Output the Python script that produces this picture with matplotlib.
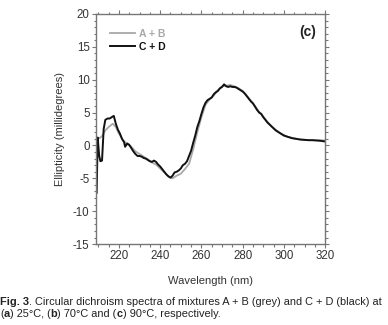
import matplotlib
matplotlib.use("Agg")
import matplotlib.pyplot as plt
from matplotlib.ticker import MultipleLocator

plt.rcParams['font.family'] = ['Liberation Sans', 'DejaVu Sans']
plt.rcParams['axes.unicode_minus'] = False

# C + D (black)
wl_cd = [209.2, 209.7, 210.4, 211, 211.8, 212.6, 213.4, 214.5, 215.5, 216.5, 217.5, 218.5,
         219.5, 220.5, 221.5, 222.5, 223, 224, 225, 226, 227, 228, 229, 230, 231, 232,
         233, 234, 235, 236, 237, 238, 239, 240, 241, 242, 243, 244, 245, 246, 247, 248,
         249, 250, 251, 252, 253, 254, 255, 256, 257, 258, 259, 260, 261, 262, 263, 264,
         265, 266, 267, 268, 269, 270, 271, 272, 273, 274, 275, 276, 277, 278, 279, 280,
         281, 282, 283, 284, 285, 286, 287, 288, 289, 290, 291, 292, 293, 294, 295, 296,
         297, 298, 299, 300, 302, 304, 306, 308, 310, 312, 314, 316, 318, 320]
cd = [-7.2, 1.2, -1.5, -2.4, -2.3, 2.5, 3.9, 4.1, 4.1, 4.3, 4.5, 3.3,
      2.4, 1.8, 1.0, 0.5, -0.2, 0.3, 0.1, -0.4, -0.9, -1.3, -1.6, -1.6, -1.7, -1.9,
      -2.0, -2.2, -2.4, -2.5, -2.3, -2.5, -2.9, -3.2, -3.6, -4.0, -4.4, -4.7, -4.9, -4.6, -4.1, -4.0,
      -3.8, -3.5, -3.0, -2.8, -2.4, -1.6, -0.8, 0.4, 1.5, 2.8, 3.7, 4.8, 5.8, 6.5, 6.9, 7.1,
      7.3, 7.8, 8.1, 8.3, 8.7, 8.9, 9.3, 9.0, 8.9, 9.0, 8.9, 8.9, 8.8, 8.6, 8.4, 8.2,
      7.9, 7.5, 7.1, 6.7, 6.4, 5.9, 5.4, 5.0, 4.8, 4.3, 3.9, 3.5, 3.2, 2.9, 2.6, 2.3,
      2.1, 1.9, 1.7, 1.5, 1.3, 1.1, 1.0, 0.9, 0.85, 0.8, 0.8, 0.75, 0.7, 0.6]

# A + B (grey)
wl_ab = [209.2, 209.7, 211, 212, 213.4, 215, 217, 218.5, 220, 222, 224, 226, 228, 230, 232,
         234, 236, 238, 240, 242, 244, 246, 248, 250, 252, 254, 256, 258, 260, 262, 264,
         266, 268, 270, 272, 274, 276, 278, 280, 282, 284, 286, 288, 290, 292, 294, 296,
         298, 300, 302, 305, 308, 311, 314, 317, 320]
ab = [-5.0, 1.0, 1.2, 1.5, 2.3, 2.8, 3.3, 2.8, 1.8, 0.8, 0.2, -0.2, -0.9, -1.3, -1.7,
      -2.1, -2.6, -2.9, -3.5, -4.1, -4.7, -5.0, -4.6, -4.3, -3.6, -2.8, -0.6, 2.0, 4.3, 6.2, 7.0,
      7.6, 8.4, 9.0, 9.1, 9.2, 9.0, 8.7, 8.3, 7.6, 6.8, 6.0, 5.1, 4.4, 3.6, 2.9, 2.4,
      1.9, 1.6, 1.3, 1.1, 0.9, 0.85, 0.8, 0.8, 0.75]

# caption pieces: (text, bold)
caption1 = [('Fig. 3', True),
            ('. Circular dichroism spectra of mixtures A + B (grey) and C + D (black) at', False)]
caption2 = [('(', False), ('a', True), (') 25°C, (', False), ('b', True),
            (') 70°C and (', False), ('c', True), (') 90°C, respectively.', False)]

fig = plt.figure(figsize=(3.88, 3.25), dpi=100)
ax = fig.add_axes([0.247, 0.249, 0.591, 0.708])

ax.plot(wl_ab, ab, color='#a8a8a8', lw=1.3, label='A + B')
ax.plot(wl_cd, cd, color='#111111', lw=1.4, label='C + D')

ax.set_xlim(208.8, 320)
ax.set_ylim(-15, 20)
ax.xaxis.set_minor_locator(MultipleLocator(5))
ax.yaxis.set_major_locator(MultipleLocator(5))
ax.yaxis.set_minor_locator(MultipleLocator(1))
ax.set_xticks([220, 240, 260, 280, 300, 320])

for s in ax.spines.values():
    s.set_color('#777777')
    s.set_linewidth(1.0)
ax.tick_params(which='both', direction='out', colors='#777777', labelcolor='#333333',
               top=True, right=True, labelsize=8.3, width=0.8)
ax.tick_params(which='major', length=3.0, pad=1.5)
ax.tick_params(which='minor', length=1.8)

ax.set_xlabel('Wavelength (nm)', fontsize=8, color='#333333', labelpad=10)
ax.set_ylabel('Ellipticity (millidegrees)', fontsize=8, color='#333333', labelpad=6)

leg = ax.legend(frameon=False, loc='upper left', bbox_to_anchor=(0.02, 0.975),
                handlelength=2.4, handletextpad=0.4, labelspacing=0.25,
                prop={'weight': 'bold', 'size': 7.5})
leg.get_texts()[0].set_color('#a8a8a8')
leg.get_texts()[1].set_color('#111111')

ax.text(0.96, 0.92, '(c)', transform=ax.transAxes, ha='right', va='center',
        fontsize=10, fontweight='bold', color='#222222')


def chain(pieces, y, size=7.9):
    # write the pieces one after another, each starting where the last ended
    prev = fig.text(0.0, y, pieces[0][0], fontsize=size, color='#222222',
                    fontweight='bold' if pieces[0][1] else 'normal',
                    ha='left', va='baseline')
    for txt, bold in pieces[1:]:
        prev = ax.annotate(txt, xy=(1, 0), xycoords=prev, xytext=(0, 0),
                           textcoords='offset points', fontsize=size, color='#222222',
                           fontweight='bold' if bold else 'normal',
                           ha='left', va='bottom', annotation_clip=False)


chain(caption1, 1 - 305 / 325)
chain(caption2, 1 - 317 / 325)

fig.savefig('out.png', dpi=100)
